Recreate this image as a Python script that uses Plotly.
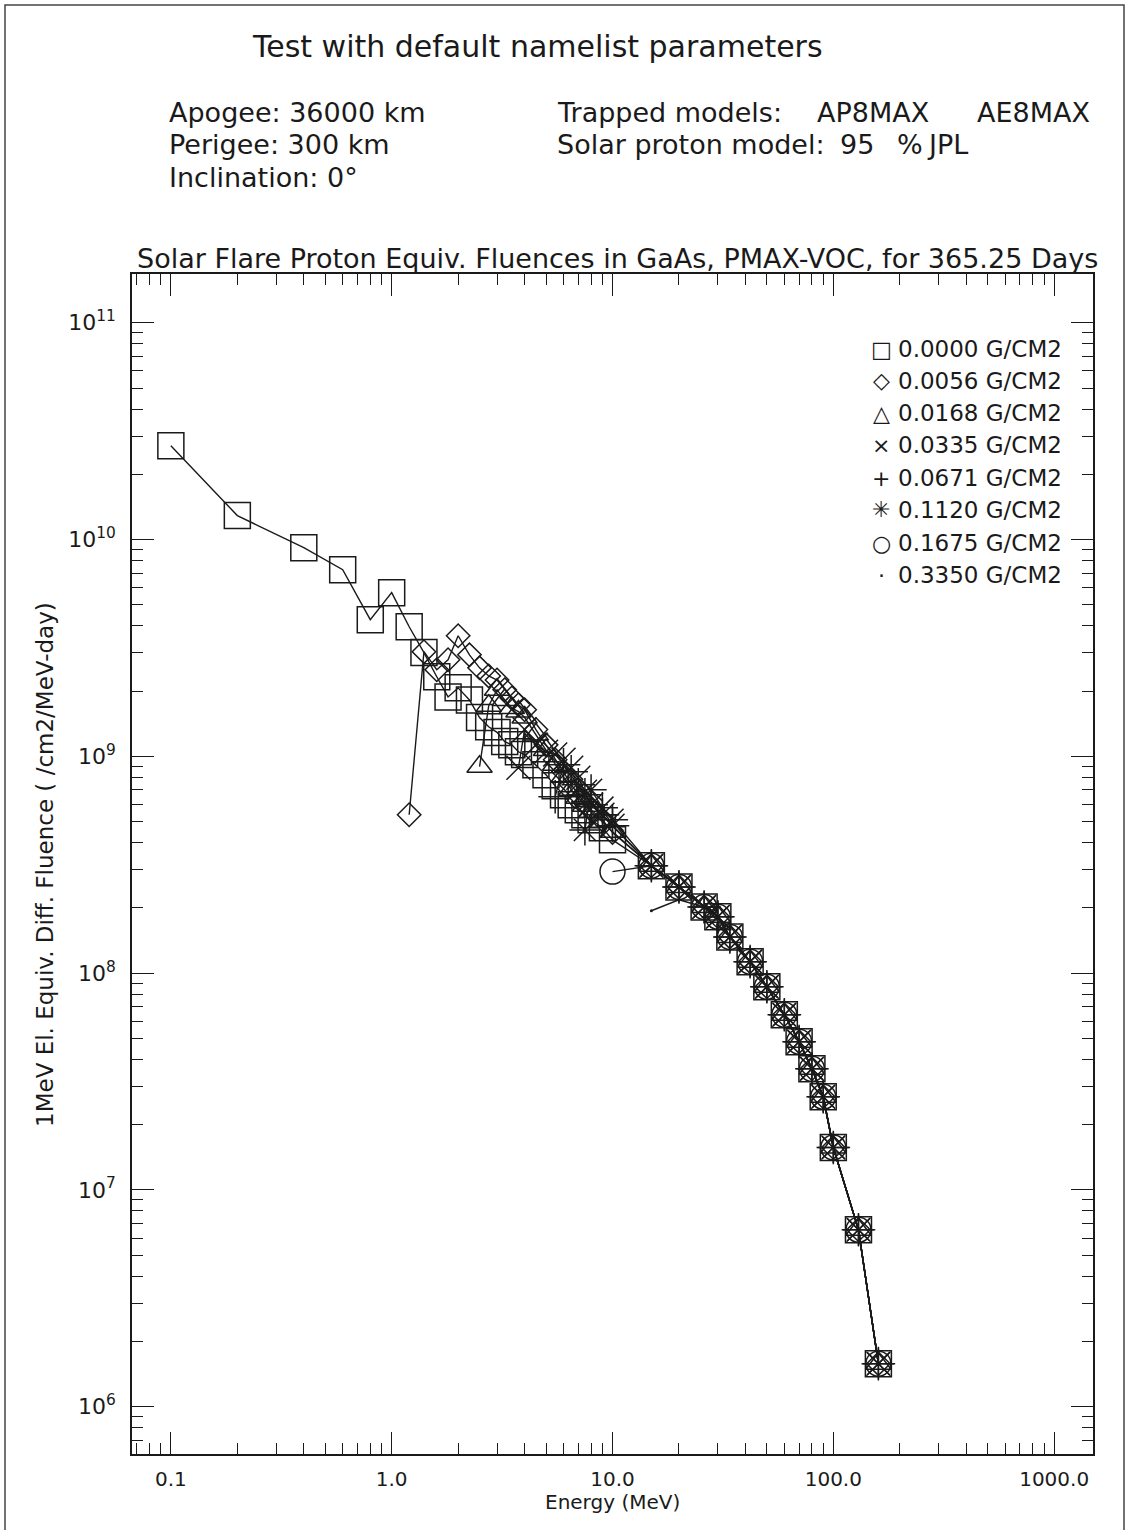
import plotly.graph_objects as go

# ---------------- data ----------------
# common tail, where all shielding thicknesses coincide
E_TAIL = [15, 20, 26, 30, 34, 42, 50, 60, 70, 80, 90, 100, 130, 160]
F_TAIL = [3.13e8, 2.50e8, 2.02e8, 1.82e8, 1.47e8, 1.13e8, 8.65e7, 6.43e7,
          4.83e7, 3.62e7, 2.69e7, 1.57e7, 6.55e6, 1.58e6]

# 0.0000 G/CM2 (squares)
E_SQ = [0.1, 0.2, 0.4, 0.6, 0.8, 1.0, 1.2, 1.4, 1.6, 1.8, 2.0, 2.25, 2.5, 2.75,
        3.0, 3.25, 3.5, 3.75, 4.0, 4.5, 5.0, 5.5, 6.0, 6.5, 7.0, 7.5, 8.0, 9.0, 10.0]
F_SQ = [2.71e10, 1.29e10, 9.17e9, 7.26e9, 4.27e9, 5.69e9, 3.96e9, 3.01e9, 2.33e9,
        1.88e9, 2.07e9, 1.82e9, 1.51e9, 1.37e9, 1.29e9, 1.17e9, 1.13e9, 1.05e9,
        1.02e9, 9.14e8, 8.22e8, 7.31e8, 6.65e8, 5.98e8, 5.67e8, 5.38e8, 5.10e8,
        4.69e8, 4.12e8]

# 0.0056 G/CM2 (diamonds)
E_DI = [1.2, 1.4, 1.6, 1.8, 2.0, 2.25, 2.5, 2.75, 3.0, 3.25, 3.5, 3.75, 4.0, 4.5,
        5.0, 5.5, 6.0, 6.5, 7.0, 7.5, 8.0, 9.0, 10.0]
F_DI = [5.38e8, 3.04e9, 2.51e9, 2.79e9, 3.60e9, 2.94e9, 2.56e9, 2.35e9, 2.25e9,
        2.03e9, 1.86e9, 1.73e9, 1.64e9, 1.33e9, 1.13e9, 9.64e8, 8.49e8, 7.40e8,
        6.65e8, 6.11e8, 5.67e8, 5.10e8, 4.45e8]

# 0.0168 G/CM2 (triangles)
E_TR = [2.5, 2.75, 3.0, 3.25, 3.5, 3.75, 4.0, 4.5, 5.0, 5.5, 6.0, 6.5, 7.0, 7.5,
        8.0, 9.0, 10.0]
F_TR = [8.96e8, 1.71e9, 2.03e9, 1.82e9, 1.67e9, 1.61e9, 1.51e9, 1.26e9, 1.07e9,
        9.14e8, 8.05e8, 7.01e8, 6.44e8, 5.92e8, 5.55e8, 4.99e8, 4.49e8]

# 0.0335 G/CM2 (X)
E_X = [3.75, 4.0, 4.5, 5.0, 5.5, 6.0, 6.5, 7.0, 7.5, 8.0, 9.0, 10.0]
F_X = [8.86e8, 1.33e9, 1.13e9, 1.05e9, 1.02e9, 9.64e8, 8.86e8, 7.96e8, 6.87e8,
       5.98e8, 5.38e8, 4.79e8]

# 0.0671 G/CM2 (plus)
E_PL = [5.5, 6.0, 6.5, 7.0, 7.5, 8.0, 9.0, 10.0]
F_PL = [6.51e8, 9.14e8, 8.49e8, 7.40e8, 6.65e8, 5.98e8, 5.38e8, 4.79e8]

# 0.1120 G/CM2 (asterisk)
E_AS = [7.5, 8.0, 9.0, 10.0]
F_AS = [4.58e8, 7.01e8, 5.80e8, 5.10e8]

# 0.1675 G/CM2 (circle)
E_CI = [10.0]
F_CI = [2.94e8]

# 0.3350 G/CM2 (dot)
E_DOT = [15, 20]
F_DOT = [1.94e8, 2.18e8]

LEGEND_LABELS = ["0.0000 G/CM2", "0.0056 G/CM2", "0.0168 G/CM2", "0.0335 G/CM2",
                 "0.0671 G/CM2", "0.1120 G/CM2", "0.1675 G/CM2", "0.3350 G/CM2"]
LEGEND_GLYPHS = ["□", "◇", "△", "×", "+", "✳", "○", "·"]

X_TICKS = [0.1, 1, 10, 100, 1000]
X_TICKTEXT = ["0.1", "1.0", "10.0", "100.0", "1000.0"]
Y_TICKS = [1e6, 1e7, 1e8, 1e9, 1e10, 1e11]
Y_TICKTEXT = ["10<sup>6</sup>", "10<sup>7</sup>", "10<sup>8</sup>", "10<sup>9</sup>",
              "10<sup>10</sup>", "10<sup>11</sup>"]

# ---------------- figure ----------------
INK = "#1a1a1a"
FONT = "DejaVu Sans"

series = [
    (E_SQ + E_TAIL, F_SQ + F_TAIL, "square-open", 26, 1.5),
    (E_DI + E_TAIL, F_DI + F_TAIL, "diamond-open", 18, 1.5),
    (E_TR + E_TAIL, F_TR + F_TAIL, "triangle-up-open", 22, 1.5),
    (E_X + E_TAIL, F_X + F_TAIL, "x-thin-open", 24, 1.5),
    (E_PL + E_TAIL, F_PL + F_TAIL, "cross-thin-open", 24, 1.5),
    (E_AS + E_TAIL, F_AS + F_TAIL, "asterisk-open", 26, 1.5),
    (E_CI + E_TAIL, F_CI + F_TAIL, "circle-open", 25, 1.5),
    (E_DOT + E_TAIL[2:], F_DOT + F_TAIL[2:], "circle", 3, 0),
]

fig = go.Figure()
for lab, (xs, ys, sym, sz, lw) in zip(LEGEND_LABELS, series):
    fig.add_trace(go.Scatter(
        x=xs, y=ys, mode="lines+markers", name=lab, showlegend=False,
        line=dict(color=INK, width=1.4),
        marker=dict(symbol=sym, size=sz, color=INK,
                    line=dict(color=INK, width=lw if lw else 0)),
    ))

axis_common = dict(
    type="log", showline=True, linecolor=INK, linewidth=1.6, mirror="allticks",
    ticks="inside", tickcolor=INK, tickwidth=1.4, showgrid=False, zeroline=False,
)
fig.update_xaxes(
    **axis_common, range=[-1.176, 3.176], tickvals=X_TICKS, ticktext=X_TICKTEXT,
    ticklen=22, ticklabelstandoff=6, tickfont=dict(family=FONT, size=20, color=INK),
    minor=dict(dtick="D1", ticks="inside", ticklen=11, tickcolor=INK, tickwidth=1.2,
               showgrid=False),
)
fig.update_yaxes(
    **axis_common, range=[5.782, 11.225], tickvals=Y_TICKS, ticktext=Y_TICKTEXT,
    ticklen=22, ticklabelstandoff=10, tickfont=dict(family=FONT, size=22, color=INK),
    minor=dict(dtick="D1", ticks="inside", ticklen=11, tickcolor=INK, tickwidth=1.2,
               showgrid=False),
)

W, H = 1129, 1530
L, R, T, B = 132, 36, 274, 76
pw, ph = W - L - R, H - T - B


def px(x):
    return (x - L) / pw


def py(y):
    return (H - B - y) / ph


ann = []


def text(s, x, y, size, anchor="left", angle=0):
    ann.append(dict(text=s, x=px(x), y=py(y), xref="paper", yref="paper",
                    xanchor=anchor, yanchor="middle", showarrow=False,
                    textangle=angle, font=dict(family=FONT, size=size, color=INK)))


text("Test with default namelist parameters", 537, 47, 30, "center")
text("Apogee: 36000 km", 167, 112, 27)
text("Perigee: 300 km", 167, 145, 27)
text("Inclination: 0°", 167, 178, 27)
text("Trapped models:", 555, 112, 27)
text("AP8MAX", 815, 112, 27)
text("AE8MAX", 975, 112, 27)
text("Solar proton model:", 555, 145, 27)
text("95", 838, 145, 27)
text("%", 895, 145, 27)
text("JPL", 925, 145, 27)
text("Solar Flare Proton Equiv. Fluences in GaAs, PMAX-VOC, for 365.25 Days",
     617, 258, 27, "center")
text("Energy (MeV)", 612, 1502, 20, "center")
text("1MeV El. Equiv. Diff. Fluence ( /cm2/MeV-day)", 45, 865, 23, "center", -90)

leg_y = [349, 381, 413, 445, 478, 510, 543, 575]
for g, lab, yy in zip(LEGEND_GLYPHS, LEGEND_LABELS, leg_y):
    text(g, 881, yy, 22, "center")
    text(lab, 896, yy, 23)

fig.update_layout(
    width=W, height=H, margin=dict(l=L, r=R, t=T, b=B, pad=0),
    paper_bgcolor="white", plot_bgcolor="white", annotations=ann,
    shapes=[dict(type="rect", xref="paper", yref="paper",
                 x0=px(5), x1=px(1124), y0=py(1540), y1=py(5),
                 line=dict(color="#444", width=1.5), layer="below")],
)

fig.write_html("out.html")
